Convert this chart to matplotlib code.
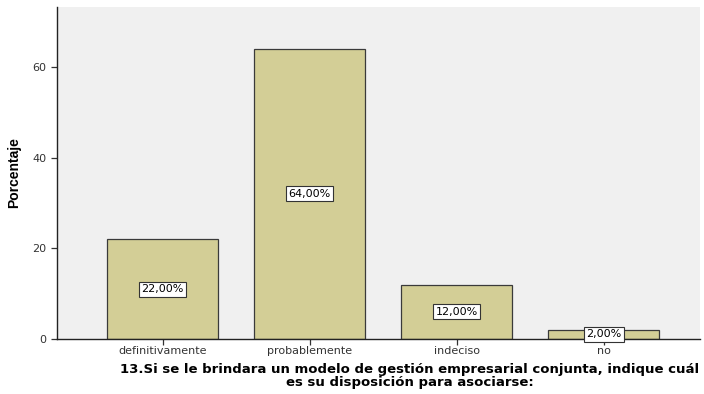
import numpy as np
import matplotlib.pyplot as plt

# datos
categorias = ['definitivamente', 'probablemente', 'indeciso', 'no']
porcentajes = [22.0, 64.0, 12.0, 2.0]
etiquetas = ['22,00%', '64,00%', '12,00%', '2,00%']

plt.rcParams['font.family'] = ['DejaVu Sans']

fig = plt.figure(figsize=(7.04, 3.94), dpi=100)
ax = fig.add_axes([57 / 704, 1 - 339 / 394, 643 / 704, 332 / 394])
ax.set_facecolor('#f0f0f0')

x = np.arange(len(categorias))
ax.bar(x, porcentajes, width=0.755, color='#d3ce96', edgecolor='#3a3a3a', linewidth=0.9)

for xi, v, lab in zip(x, porcentajes, etiquetas):
    ax.text(xi, v / 2, lab, ha='center', va='center', fontsize=8,
            bbox=dict(boxstyle='square,pad=0.22', facecolor='white', edgecolor='#333333', linewidth=0.8))

ax.set_xlim(-0.718, 3.655)
ax.set_ylim(0, 73.2)
ax.set_yticks([0, 20, 40, 60])
ax.set_xticks(x)
ax.set_xticklabels(categorias)
ax.tick_params(axis='both', labelsize=8, colors='#333333', length=4, width=0.9)
ax.tick_params(axis='x', pad=1)

for s in ['top', 'right']:
    ax.spines[s].set_visible(False)
for s in ['left', 'bottom']:
    ax.spines[s].set_color('#222222')
    ax.spines[s].set_linewidth(1.0)

ax.set_ylabel('Porcentaje', fontsize=10, fontweight='bold', family='Liberation Sans', labelpad=8)
ax.set_xlabel('13.Si se le brindara un modelo de gestión empresarial conjunta, indique cuál\nes su disposición para asociarse:',
              fontsize=9.5, fontweight='bold', linespacing=0.95)
ax.xaxis.set_label_coords(0.549, -0.073, transform=ax.transAxes)
ax.xaxis.label.set_va('top')

fig.savefig('out.png', dpi=100)
